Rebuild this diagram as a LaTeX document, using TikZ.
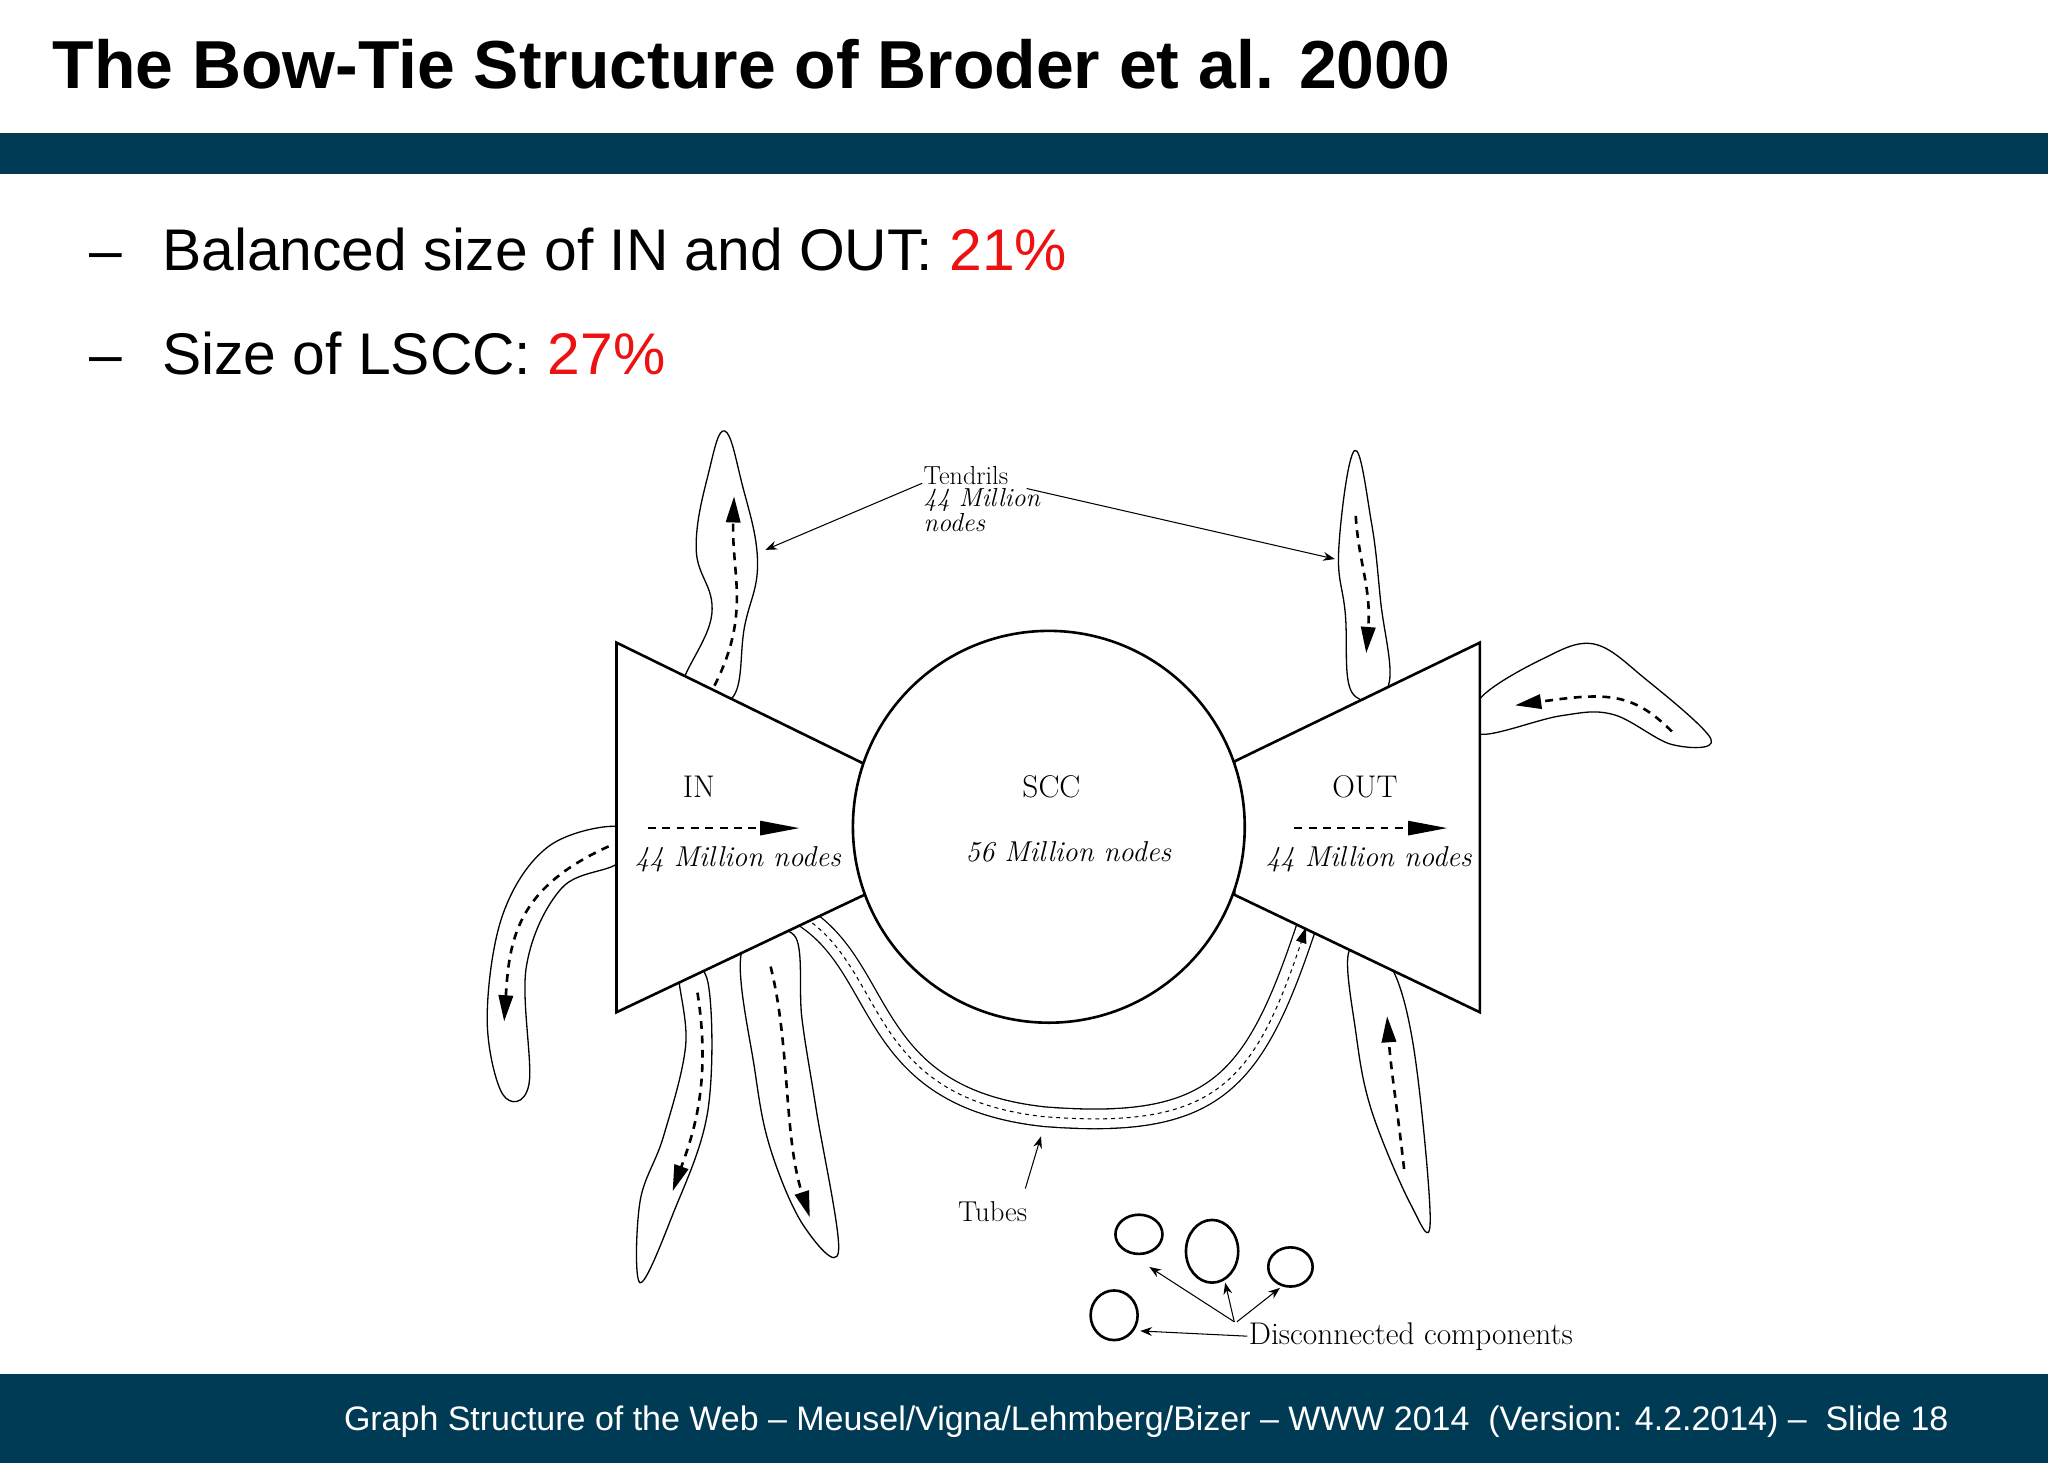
\documentclass[tikz,border=0pt]{standalone}
\usepackage{fontspec}
\setsansfont{Liberation Sans}
\usetikzlibrary{arrows.meta}
\definecolor{band}{HTML}{003B55}
\definecolor{red}{HTML}{EE1111}
\begin{document}
\begin{tikzpicture}[x=1pt,y=-1pt,
  lbl/.style={font=\fontsize{24}{24}\selectfont, inner sep=1pt},
  ilbl/.style={font=\fontsize{22}{22}\selectfont\itshape, inner sep=1pt},
  blob/.style={draw, line width=1pt, fill=white},
  flow/.style={dashed, line width=2pt, dash pattern=on 6pt off 5pt, -{Triangle[length=20pt,width=11pt]}},
  thin/.style={line width=0.8pt, -{Stealth[length=9pt]}},
  bul/.style={font=\sffamily\fontsize{45}{45}\selectfont, anchor=base west, inner sep=0pt}]
\useasboundingbox (0,0) rectangle (1568,1120);
\fill[white] (0,0) rectangle (1568,1120);
\node[font=\sffamily\bfseries\fontsize{52}{52}\selectfont, anchor=base west, inner sep=0pt] (title) at (40,68) {The Bow-Tie Structure of Broder et al. 2000};
\fill[band] (0,102) rectangle (1568,133);
\fill[band] (0,1052) rectangle (1568,1120);
\node[bul] (d1) at (68,207) {--};
\node[bul] (b1) at (124,207) {Balanced size of IN and OUT: \textcolor{red}{21\%}};
\node[bul] (d2) at (68,287) {--};
\node[bul] (b2) at (124,287) {Size of LSCC: \textcolor{red}{27\%}};
\node[font=\sffamily\fontsize{26}{26}\selectfont, text=white, anchor=base east, inner sep=0pt] (foot) at (1492,1095) {Graph Structure of the Web -- Meusel/Vigna/Lehmberg/Bizer -- WWW 2014\ \ (Version: 4.2.2014) --\ \ Slide 18};

% tendrils
\draw[blob] plot[smooth cycle, tension=0.7] coordinates {(522,530) (545,470) (533,420) (543,360) (555,330) (568,370) (580,430) (570,480) (560,535)};
\draw[flow] (547,525) .. controls (575,470) and (560,440) .. (562,380);
\draw[blob] plot[smooth cycle, tension=0.7] coordinates {(1035,530) (1030,470) (1025,420) (1037,345) (1050,400) (1057,460) (1063,525)};
\draw[flow] (1038,395) .. controls (1040,430) and (1050,450) .. (1046,500);
\draw[blob] plot[smooth cycle, tension=0.6] coordinates {(1133,535) (1180,505) (1220,493) (1260,520) (1310,566) (1280,570) (1235,547) (1195,548) (1133,562)};
\draw[flow] (1280,560) .. controls (1250,530) and (1230,530) .. (1160,540);
\draw[blob] plot[smooth cycle, tension=0.6] coordinates {(474,633) (420,648) (385,700) (373,780) (385,838) (405,830) (403,740) (430,680) (474,660)};
\draw[flow] (466,648) .. controls (395,680) and (390,720) .. (386,782);
\draw[blob] plot[smooth cycle, tension=0.6] coordinates {(520,742) (542,752) (542,850) (515,930) (490,982) (490,920) (508,870) (525,800)};
\draw[flow] (534,760) .. controls (545,830) and (530,870) .. (515,912);
\draw[blob] plot[smooth cycle, tension=0.6] coordinates {(568,728) (608,716) (614,780) (625,850) (642,958) (615,938) (590,880) (578,820)};
\draw[flow] (590,740) .. controls (605,800) and (600,870) .. (620,932);
\draw[blob] plot[smooth cycle, tension=0.6] coordinates {(1033,728) (1062,735) (1082,800) (1095,935) (1080,922) (1050,850) (1038,790)};
\draw[flow] (1075,895) .. controls (1070,850) and (1065,820) .. (1062,778);

% tubes
\draw[line width=1pt, double=white, double distance=14pt] (612,700) .. controls (680,740) and (660,840) .. (800,855) .. controls (930,865) and (960,830) .. (1000,710);
\draw[line width=0.8pt, dashed, -{Triangle[length=12pt,width=8pt]}] (612,700) .. controls (680,740) and (660,840) .. (800,855) .. controls (930,865) and (960,830) .. (1000,710);

% bow tie
\draw[line width=2pt, fill=white] (472,492) -- (662,585) -- (662,685) -- (472,775) -- cycle;
\draw[line width=2pt, fill=white] (1133,492) -- (945,583) -- (945,685) -- (1133,775) -- cycle;
\draw[line width=2pt, fill=white] (803,633) circle (150);
\node[lbl] (in) at (535,602) {IN};
\node[lbl] (scc) at (805,602) {SCC};
\node[lbl] (out) at (1045,602) {OUT};
\node[ilbl] (inn) at (565,658) {44 Million nodes};
\node[ilbl] (sccn) at (818,652) {56 Million nodes};
\node[ilbl] (outn) at (1048,658) {44 Million nodes};
\draw[flow, line width=1.2pt, -{Triangle[length=30pt,width=11pt]}] (496,634) -- (612,634);
\draw[flow, line width=1.2pt, -{Triangle[length=30pt,width=11pt]}] (991,634) -- (1108,634);

% disconnected
\draw[line width=2pt] (872,945) ellipse (18 and 15);
\draw[line width=2pt] (928,958) ellipse (20 and 24);
\draw[line width=2pt] (988,970) ellipse (17 and 15);
\draw[line width=2pt] (853,1007) ellipse (18 and 19);
\coordinate (c1) at (880,970);
\coordinate (c2) at (938,982);
\coordinate (c3) at (980,986);
\coordinate (c4) at (873,1019);

% labels
\node[anchor=north west, align=left, inner sep=1pt, font=\fontsize{20}{17}\selectfont] (tend) at (706,356) {Tendrils\\\textit{44 Million}\\\textit{nodes}};
\coordinate (t1) at (586,421);
\coordinate (t2) at (1022,428);
\draw[thin] (706,370) -- (t1);
\draw[thin] (786,374) -- (t2);
\node[lbl, font=\fontsize{22}{22}\selectfont] (tubes) at (760,928) {Tubes};
\coordinate (tb) at (797,870);
\draw[thin] (785,910) -- (tb);
\node[lbl, anchor=west, font=\fontsize{24}{24}\selectfont] (disc) at (955,1023) {Disconnected components};
\draw[thin] (disc.west) -- (c4);
\draw[thin] (945,1012) -- (c1);
\draw[thin] (945,1012) -- (c2);
\draw[thin] (947,1012) -- (c3);
\end{tikzpicture}
\end{document}
